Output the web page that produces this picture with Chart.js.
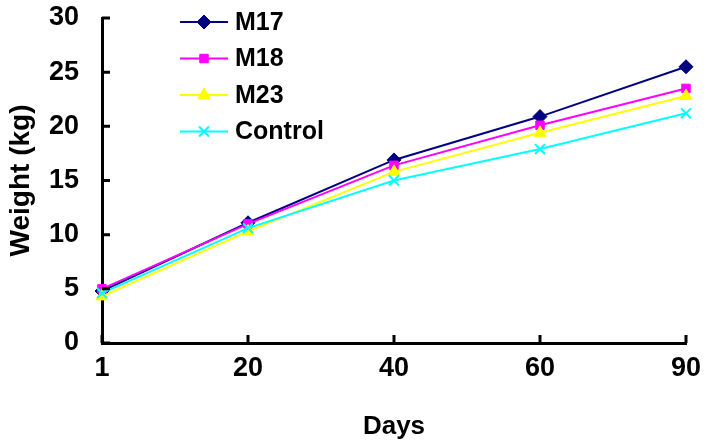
<!DOCTYPE html>
<html>
<head>
<meta charset="utf-8">
<script src="https://cdn.jsdelivr.net/npm/chart.js@4/dist/chart.umd.min.js"></script>
<style>
    html, body { margin: 0; padding: 0; background: #fff; }
    #wrap { width: 707px; height: 448px; }
</style>
</head>
<body>
<div id="wrap"><canvas id="grafica" width="707" height="448"></canvas></div>
<script>
const dias = ["1", "20", "40", "60", "90"];

const m17 = [4.8, 11.1, 16.9, 20.9, 25.5];
const m18 = [5.0, 11.0, 16.4, 20.1, 23.5];
const m23 = [4.3, 10.3, 15.8, 19.4, 22.8];
const control = [4.6, 10.6, 15.0, 17.9, 21.2];

const yTicks = [0, 5, 10, 15, 20, 25, 30];

const fuente = "'Liberation Sans', Arial, sans-serif";

// ================= TICKS HACIA DENTRO =================

const ticksDentro = {
    id: "ticksDentro",
    afterDraw(chart)
    {
        const ctx = chart.ctx;
        const x = chart.scales.x;
        const y = chart.scales.y;

        ctx.save();
        ctx.strokeStyle = "#000";
        ctx.lineWidth = 3;
        ctx.beginPath();

        x.ticks.forEach((t, i) => {
            const px = x.getPixelForTick(i);
            ctx.moveTo(px, x.top);
            ctx.lineTo(px, x.top - 8);
        });

        y.ticks.forEach((t, i) => {
            const py = y.getPixelForTick(i);
            ctx.moveTo(y.right, py);
            ctx.lineTo(y.right + 8, py);
        });

        ctx.stroke();
        ctx.restore();
    }
};

// ================= LEYENDA =================

const leyenda = {
    id: "leyenda",
    afterDraw(chart)
    {
        const ctx = chart.ctx;

        chart.data.datasets.forEach((ds, i) => {
            const yy = 22 + i * 36.5;

            ctx.save();
            ctx.strokeStyle = ds.borderColor;
            ctx.lineWidth = 2;
            ctx.beginPath();
            ctx.moveTo(180, yy);
            ctx.lineTo(228, yy);
            ctx.stroke();

            ctx.fillStyle = ds.pointBackgroundColor;
            ctx.strokeStyle = ds.pointBorderColor;
            ctx.lineWidth = ds.pointBorderWidth;
            Chart.helpers.drawPoint(ctx, {
                pointStyle: ds.pointStyle,
                radius: ds.pointRadius,
                borderWidth: ds.pointBorderWidth,
                rotation: 0
            }, 204, yy);

            ctx.fillStyle = "#000";
            ctx.font = "bold 25px " + fuente;
            ctx.textBaseline = "middle";
            ctx.fillText(ds.label, 235, yy + 1);
            ctx.restore();
        });
    }
};

function serie(label, datos, color, estilo, radio, borde, orden)
{
    return {
        label: label,
        data: datos,
        borderColor: color,
        borderWidth: 2,
        pointStyle: estilo,
        pointRadius: radio,
        pointBackgroundColor: color,
        pointBorderColor: color,
        pointBorderWidth: borde,
        tension: 0,
        order: orden
    };
}

new Chart(
    document.getElementById("grafica"),
    {
        type: "line",
        data:
        {
            labels: dias,
            datasets:
            [
                serie("M17", m17, "#000080", "rectRot", 7, 1, 4),
                serie("M18", m18, "#FF00FF", "rect", 6, 1, 3),
                serie("M23", m23, "#FFFF00", "triangle", 7, 1, 2),
                serie("Control", control, "#00FFFF", "crossRot", 7, 2, 1)
            ]
        },
        options:
        {
            responsive: false,
            animation: false,
            devicePixelRatio: 1,
            layout: { padding: { left: 0, right: 21, top: 18, bottom: 0 } },
            plugins:
            {
                legend: { display: false },
                tooltip: { enabled: false }
            },
            scales:
            {
                x:
                {
                    offset: false,
                    afterFit: s => {
                        s.height = 105;
                        s.paddingLeft = 0;
                        s.paddingRight = 0;
                    },
                    grid: { display: false, drawTicks: false },
                    border: { color: "#000", width: 3 },
                    ticks:
                    {
                        color: "#000",
                        padding: 9,
                        maxRotation: 0,
                        font: { family: fuente, size: 27, weight: "bold" }
                    },
                    title:
                    {
                        display: true,
                        text: "Days",
                        color: "#000",
                        padding: { top: 0, bottom: 6 },
                        font: { family: fuente, size: 26, weight: "bold" }
                    }
                },
                y:
                {
                    min: 0,
                    max: 30,
                    afterFit: s => {
                        s.width = 102;
                        s.paddingTop = 0;
                        s.paddingBottom = 0;
                    },
                    afterBuildTicks: s => { s.ticks = yTicks.map(v => ({ value: v })); },
                    grid: { display: false, drawTicks: false },
                    border: { color: "#000", width: 3 },
                    ticks:
                    {
                        color: "#000",
                        padding: 23,
                        font: { family: fuente, size: 27, weight: "bold" }
                    },
                    title:
                    {
                        display: true,
                        text: "Weight (kg)",
                        color: "#000",
                        padding: { top: 4, bottom: 0 },
                        font: { family: fuente, size: 28, weight: "bold" }
                    }
                }
            }
        },
        plugins: [ticksDentro, leyenda]
    });
</script>
</body>
</html>
